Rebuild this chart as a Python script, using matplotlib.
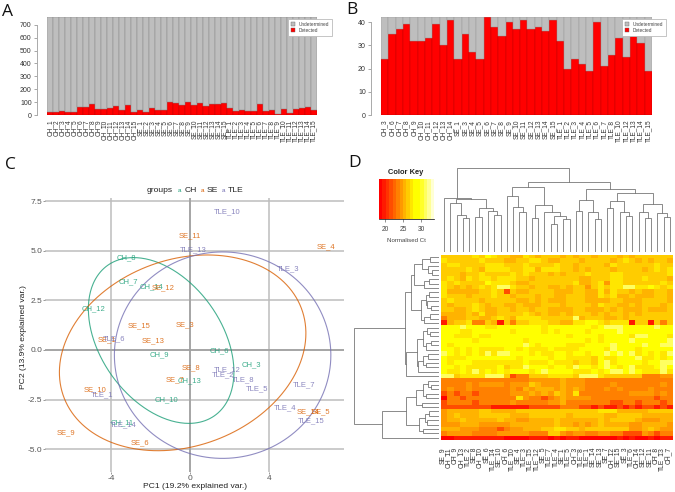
import numpy as np
import matplotlib
matplotlib.use("Agg")
import matplotlib.pyplot as plt
from matplotlib.colors import ListedColormap
from matplotlib.patches import Patch

plt.rcParams['font.family'] = ['Liberation Sans', 'DejaVu Sans']

W, H = 675, 492
GREY, RED = '#bebebe', '#ff0000'

# Panel A
a_labels = [f'CH_{i}' for i in range(1, 16)] + [f'SE_{i}' for i in range(1, 16)] + [f'TLE_{i}' for i in range(1, 16)]
a_detected = [25, 22, 30, 22, 25, 65, 65, 82, 47, 48, 58, 67, 35, 75, 22,
              42, 20, 55, 40, 40, 100, 95, 78, 97, 75, 90, 72, 85, 85, 92,
              55, 28, 38, 30, 30, 83, 32, 42, 8, 45, 15, 45, 55, 62, 40]
a_total = 760

# Panel B
b_labels = ['CH_3', 'CH_6', 'CH_7', 'CH_8', 'CH_9', 'CH_10', 'CH_11', 'CH_12', 'CH_13', 'CH_14',
            'SE_1', 'SE_3', 'SE_4', 'SE_5', 'SE_6', 'SE_7', 'SE_8', 'SE_9', 'SE_10', 'SE_11', 'SE_12',
            'SE_13', 'SE_14', 'SE_15', 'TLE_1', 'TLE_2', 'TLE_3', 'TLE_4', 'TLE_5', 'TLE_6', 'TLE_7',
            'TLE_8', 'TLE_10', 'TLE_12', 'TLE_13', 'TLE_14', 'TLE_15']
b_detected = [24, 35, 37, 39, 32, 32, 33, 39, 30, 41, 24, 35, 27, 24, 42, 38, 34, 40, 37, 41, 37,
              38, 36, 41, 32, 20, 24, 22, 19, 40, 21, 26, 33, 25, 35, 31, 19]
b_total = 42.2

# Panel C
pca_ch = [('CH_8', -3.24, 4.66), ('CH_7', -3.12, 3.45), ('CH_14', -1.96, 3.18), ('CH_12', -4.89, 2.07),
          ('CH_9', -1.55, -0.22), ('CH_6', 1.47, -0.05), ('CH_3', 3.07, -0.74), ('CH_13', -0.02, -1.55),
          ('CH_10', -1.23, -2.50), ('CH_11', -3.47, -3.65)]
pca_se = [('SE_11', -0.05, 5.73), ('SE_4', 6.85, 5.19), ('SE_12', -1.40, 3.11), ('SE_15', -2.61, 1.21),
          ('SE_3', -0.27, 1.29), ('SE_1', -4.20, 0.50), ('SE_13', -1.87, 0.44), ('SE_8', 0.02, -0.87),
          ('SE_7', -0.78, -1.51), ('SE_10', -4.81, -2.02), ('SE_14', 5.95, -3.11), ('SE_5', 6.64, -3.11),
          ('SE_9', -6.29, -4.15), ('SE_6', -2.56, -4.67)]
pca_tle = [('TLE_10', 1.84, 6.94), ('TLE_13', 0.13, 5.04), ('TLE_3', 4.97, 4.07), ('TLE_6', -3.86, 0.55),
           ('TLE_12', 1.87, -0.99), ('TLE_2', 1.67, -1.26), ('TLE_8', 2.65, -1.50), ('TLE_5', 3.37, -1.97),
           ('TLE_7', 5.77, -1.76), ('TLE_1', -4.49, -2.27), ('TLE_4', 4.79, -2.89), ('TLE_15', 6.12, -3.58),
           ('TLE_14', -3.39, -3.78)]
# centre x, half width, centre y, half height, correlation
ellipse_ch = (-1.476, 3.685, 0.479, 4.176, -0.38)
ellipse_se = (-0.388, 6.24, -0.143, 4.93, 0.20)
ellipse_tle = (1.636, 5.48, -0.26, 5.20, 0.0)
col_ch, col_se, col_tle = '#1b9e77', '#d95f02', '#7570b3'

# Panel D
heat_labels = ['SE_9', 'CH_11', 'CH_9', 'CH_13', 'TLE_2', 'SE_8', 'CH_10', 'SE_6', 'TLE_14', 'SE_10', 'CH_6',
               'TLE_10', 'SE_4', 'TLE_3', 'TLE_15', 'TLE_12', 'SE_5', 'TLE_7', 'TLE_4', 'SE_1', 'TLE_5', 'CH_3',
               'TLE_8', 'TLE_1', 'SE_14', 'SE_13', 'SE_7', 'CH_12', 'SE_15', 'SE_3', 'TLE_6', 'CH_14', 'SE_12',
               'SE_11', 'CH_8', 'TLE_13', 'CH_7']
ct_levels = [18.8, 20.2, 21.7, 24.0, 24.7, 25.5, 26.4, 27.4, 29.5, 31.5]
heat_rows = """
6666676876 6557656665 6566566656 5666666
7666667666 5566776556 6656666567 6565665
6776666777 6667666676 6566665766 6666766
6666765777 7667757776 6565666566 6656767
6665667666 6767666565 6667666776 6666667
6765767767 7766566666 6655666776 6676665
7676666877 7655666666 6755674776 6666676
7656567679 9766566556 5664676779 9778767
7555556676 2655666655 5665575766 5655665
7666566676 6566656655 6665576755 6555665
6766665666 6655656555 6665555665 5566665
6566676566 5565556665 6666576655 6566656
6655676556 6566566555 5665556565 5565556
5555657556 6667656556 5666565665 6566666
3555665567 6577776666 6956665565 6666666
1566733651 6366777665 5778876777 1661636
8889888778 8888887888 8888789998 8888988
8887788888 8788887878 8887888898 8888888
8877787788 8888888888 7888878888 7998887
8888878888 8887888888 8887878888 9888889
8788888888 8889878888 7778888988 8898899
8878787777 8878777877 7788887988 8788888
9878787979 9888787788 7887889898 9787879
8777888888 8878888788 7777687788 8977878
8788877777 7778777877 7677689788 8878899
8878777778 6779888788 7988789878 9777898
8778797878 7888789888 8777878998 9877797
9967777999 6233666777 7699976666 6633344
3333333333 3333444445 4443333333 3333333
3333434444 3444654445 4443333433 3333343
3433433333 3435455545 4543334343 3334333
2323323333 3444545465 4733333333 4444343
0332333333 3374332345 4444333333 3333233
2333323333 3433333445 3333333223 3233323
2222222211 1111222223 3322121121 2122121
4555556655 5566666666 6666677755 5556666
4565556666 6555666666 5666665566 6655555
4556555556 5544555565 5555565666 6544455
4445554444 4555555565 5454565555 4455554
5554443332 3445556677 6656666666 4456544
3444433334 4444333664 3443344332 2243233
0011111111 0000111010 1100000010 1001011
""".split('\n')[1:-1]
heat_ct = np.array([[ct_levels[int(c)] for c in r.replace(' ', '')] for r in heat_rows])
key_colors = ['#ff0000', '#ff1a00', '#ff3300', '#ff4d00', '#ff6600', '#ff8000', '#ff9900', '#ffb300',
              '#ffcc00', '#ffe600', '#ffff00', '#ffff00', '#ffff2a', '#ffff60', '#ffff95', '#ffffd5']
key_range = (18.3, 33.6)
key_ticks = [20, 25, 30]

# dendrograms: (height, left, right), 0 = leaf
col_c1 = (160, 0, (157, (145, 0, (110, 0, (102, 0, 0))), (132, (105, 0, 0), (123, 0, (110, 0, 0)))))
col_c2 = (192, (167, 0, (135, 0, (118, 0, 0))), (138, (100, 0, 0), (118, 0, (108, (83, 0, 0), (97, 0, 0)))))
col_c3 = (188, (155, (122, 0, 0), (118, 0, (98, 0, 0))),
          (175, (152, (130, 0, 0), (118, 0, (108, 0, 0))), (143, (120, 0, (100, 0, 0)), (117, 0, (105, 0, 0)))))
col_tree = (250, col_c1, (209, col_c2, col_c3))

row_t1 = (75, (53, (28, 0, 0), (34, 0, (22, 0, 0))), (45, (30, 0, 0), 0))
row_t2 = (56, (40, (30, 0, 0), (36, 0, (24, 0, 0))), (46, (28, 0, 0), 0))
row_m1 = (48, (36, 0, (28, 0, 0)), (40, (26, 0, 0), 0))
row_m2 = (64, (50, (34, 0, 0), (40, 0, 0)), 0)
row_b1 = (70, (50, (35, 0, (25, 0, 0)), (40, 0, 0)), (52, 0, 0))
row_b2 = (62, (44, (30, 0, 0), (36, 0, 0)), (48, 0, 0))
row_tree = (256, (103, (85, row_t1, row_t2), (100, (68, row_m1, row_m2), 0)),
            (171, (100, row_b1, row_b2), 0))

fig = plt.figure(figsize=(W / 100, H / 100), dpi=100, facecolor='white')


def ax_px(l, t, r, b):
    return fig.add_axes([l / W, 1 - b / H, (r - l) / W, (b - t) / H])


def ftext(x, y, s, **kw):
    kw.setdefault('ha', 'center')
    kw.setdefault('va', 'center')
    return fig.text(x / W, 1 - y / H, s, **kw)


def stacked(ax, labels, det, total, yticks, gap_pt, edge):
    ax.spines['left'].set_position(('outward', gap_pt))
    x = np.arange(len(labels))
    ax.bar(x, det, width=1, color=RED, edgecolor='#b00000', linewidth=0.25)
    ax.bar(x, np.array(total) - np.array(det), bottom=det, width=1, color=GREY, edgecolor=edge, linewidth=0.35)
    ax.set_xlim(-0.5, len(labels) - 0.5)
    ax.set_ylim(0, total)
    ax.set_xticks(x, labels, rotation=90, fontsize=4.7, color='#333333')
    ax.tick_params(axis='x', length=0, pad=3.5)
    ax.set_yticks(yticks, [str(t) for t in yticks], fontsize=5, color='#333333')
    ax.tick_params(axis='y', length=2, width=0.6, color='#999999', pad=1.5)
    for s in ('top', 'right', 'bottom'):
        ax.spines[s].set_visible(False)
    ax.spines['left'].set_bounds(yticks[0], yticks[-1])
    ax.spines['left'].set_color('#aaaaaa')
    ax.spines['left'].set_linewidth(0.7)


def bar_legend(ax, left, top):
    h = [Patch(facecolor=GREY, edgecolor='#666666', linewidth=0.3), Patch(facecolor=RED, edgecolor='#666666', linewidth=0.3)]
    leg = ax.legend(h, ['Undetermined', 'Detected'], loc='upper left',
                    bbox_to_anchor=(left / W, 1 - top / H), bbox_transform=fig.transFigure,
                    fontsize=3.4, frameon=True, fancybox=False, borderaxespad=0, handlelength=0.9,
                    handleheight=0.9, handletextpad=0.7, labelspacing=0.25, borderpad=0.6, framealpha=1)
    leg.get_frame().set_edgecolor('#bbbbbb')
    leg.get_frame().set_linewidth(0.6)
    for t in leg.get_texts():
        t.set_color('#444444')


axA = ax_px(47, 17, 317, 115)
stacked(axA, a_labels, a_detected, a_total, [0, 100, 200, 300, 400, 500, 600, 700], 7.5, '#8a8a8a')
bar_legend(axA, 288, 19)

axB = ax_px(381, 17, 652, 115)
stacked(axB, b_labels, b_detected, b_total, [0, 10, 20, 30, 40], 7.5, '#999999')
bar_legend(axB, 622, 19)

# Panel C
axC = ax_px(45, 198, 344, 472)
axC.set_xlim(-7.357, 7.782)
axC.set_ylim(-6.146, 7.657)
for s in axC.spines.values():
    s.set_visible(False)
xt, yt = [-4, 0, 4], [-5.0, -2.5, 0.0, 2.5, 5.0, 7.5]
axC.set_xticks(xt, ['-4', '0', '4'], fontsize=6, color='#555555')
axC.set_yticks(yt, [f'{v:.1f}' for v in yt], fontsize=6, color='#555555')
axC.tick_params(length=1.5, width=0.6, color='#888888', pad=0.5)
axC.set_axisbelow(True)
axC.grid(True, color='#bdbdbd', linewidth=1.1)
axC.axhline(0, color='#a0a0a0', linewidth=1.2, zorder=0.8)
axC.axvline(0, color='#a0a0a0', linewidth=1.2, zorder=0.8)
t = np.linspace(0, 2 * np.pi, 300)
for (cx, a, cy, b, r), c in ((ellipse_ch, col_ch), (ellipse_se, col_se), (ellipse_tle, col_tle)):
    axC.plot(cx + a * np.cos(t), cy + b * np.cos(t + np.arccos(r)), color=c, lw=0.8, alpha=0.8,
             zorder=2, solid_capstyle='butt')
for pts, c in ((pca_ch, col_ch), (pca_se, col_se), (pca_tle, col_tle)):
    for name, x, y in pts:
        axC.text(x, y, name, color=c, fontsize=5.5, ha='center', va='center', alpha=0.85, zorder=3)
ftext(195, 486, 'PC1 (19.2% explained var.)', fontsize=6.1, color='#222222')
ftext(24, 337, 'PC2 (13.9% explained var.)', fontsize=6.1, color='#222222', rotation=90)
ftext(147, 191, 'groups', fontsize=6.1, ha='left', color='#222222')
ftext(180, 191, 'a', fontsize=4.5, color=col_ch)
ftext(185, 191, 'CH', fontsize=6.1, ha='left', color='#222222')
ftext(202, 191, 'a', fontsize=4.5, color=col_se)
ftext(207, 191, 'SE', fontsize=6.1, ha='left', color='#222222')
ftext(223, 191, 'a', fontsize=4.5, color=col_tle)
ftext(228, 191, 'TLE', fontsize=6.1, ha='left', color='#222222')

# Panel D
cmap = ListedColormap(key_colors)
axH = ax_px(441, 255, 673, 440)
axH.imshow(heat_ct, cmap=cmap, vmin=key_range[0], vmax=key_range[1], aspect='auto', interpolation='nearest')
for s in axH.spines.values():
    s.set_visible(False)
axH.set_yticks([])
axH.set_xticks(np.arange(len(heat_labels)) - 0.3, heat_labels, rotation=90, fontsize=4.9, color='#333333')
axH.tick_params(axis='x', length=0, pad=5)

axK = ax_px(379, 179, 434, 219)
axK.imshow(np.linspace(key_range[0], key_range[1], 16)[None, :], cmap=cmap, vmin=key_range[0], vmax=key_range[1],
           aspect='auto', extent=(key_range[0], key_range[1], 0, 1), interpolation='nearest')
axK.set_yticks([])
axK.set_xticks(key_ticks, [str(v) for v in key_ticks], fontsize=4.8, color='#444444')
axK.tick_params(axis='x', length=2, width=0.5, pad=3, color='#666666')
for s in ('top', 'left', 'right'):
    axK.spines[s].set_visible(False)
axK.spines['bottom'].set_linewidth(0.5)
ftext(406, 173, 'Color Key', fontsize=5.4, fontweight='bold', color='#222222')
ftext(406, 240, 'Normalised Ct', fontsize=4.4, color='#444444')


def draw_tree(node, counter, seg):
    if node == 0:
        counter[0] += 1
        return counter[0] - 1, 0
    h, left, right = node
    p1, h1 = draw_tree(left, counter, seg)
    p2, h2 = draw_tree(right, counter, seg)
    seg.append(([p1, p1, p2, p2], [h1, h, h, h2]))
    return (p1 + p2) / 2, h


axCD = ax_px(441, 168, 673, 251.7)
axCD.set_xlim(-0.5, 36.5)
axCD.set_ylim(0, 250)
axCD.axis('off')
segs = []
draw_tree(col_tree, [0], segs)
for px_, py_ in segs:
    axCD.plot(px_, py_, color='#777777', lw=0.6, solid_joinstyle='miter')

axRD = ax_px(350, 255, 439.3, 440)
axRD.set_xlim(268, 0)
axRD.set_ylim(41.5, -0.5)
axRD.axis('off')
segs = []
draw_tree(row_tree, [0], segs)
for py_, px_ in segs:
    axRD.plot(px_, py_, color='#777777', lw=0.6, solid_joinstyle='miter')

# Panel letters
for s, x, y in (('A', 8, 12), ('B', 352, 10), ('C', 10, 165), ('D', 355, 163)):
    ftext(x, y, s, fontsize=12.5, family=['Open Sans', 'DejaVu Sans'], color='#111111')

fig.savefig('out.png', dpi=100)
